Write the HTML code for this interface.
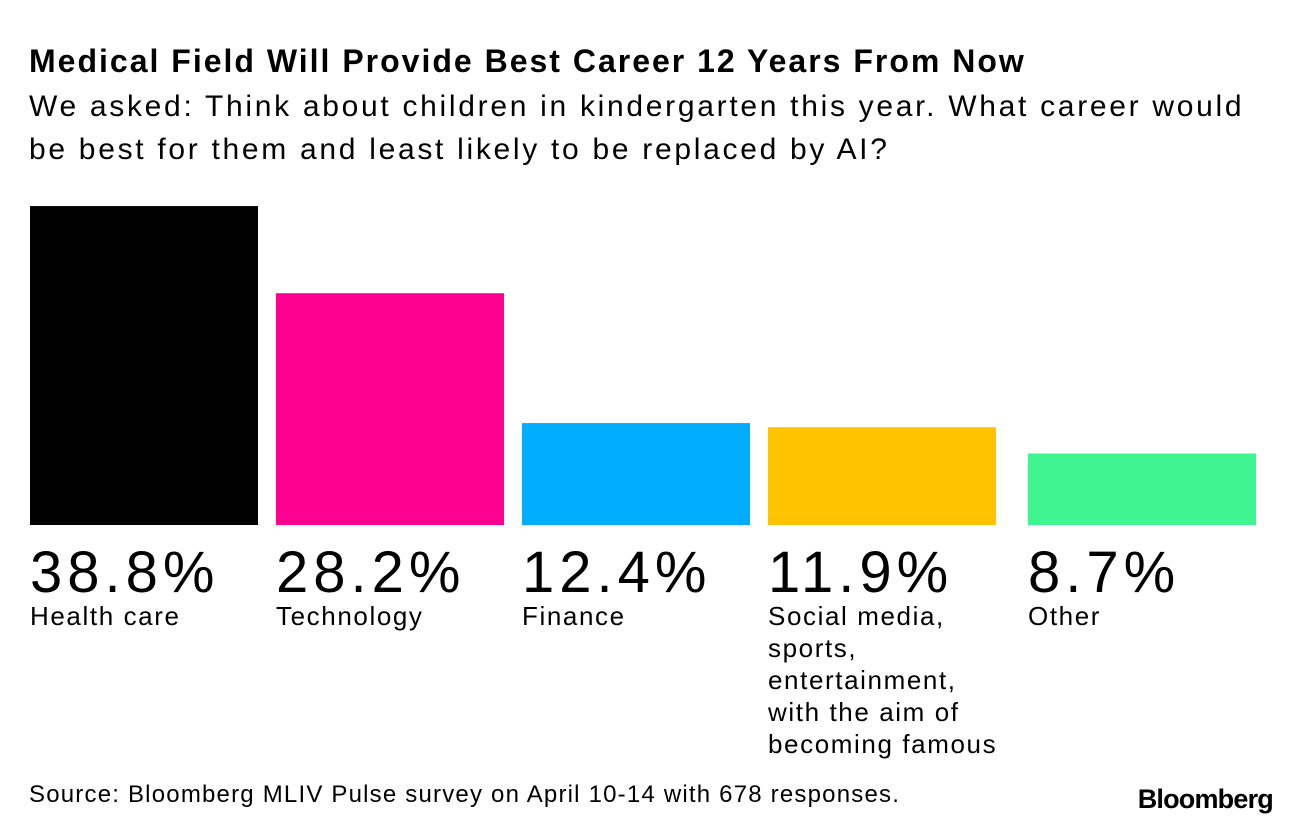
<!DOCTYPE html>
<html><head><meta charset="utf-8">
<style>
body{margin:0;background:#fff;width:1296px;height:834px;overflow:hidden;position:relative;font-family:"Liberation Sans",sans-serif;color:#000}
.t{position:absolute;white-space:nowrap}
</style></head>
<body>
<div class="t" style="left:29px;top:43px;font-size:32px;font-weight:bold;letter-spacing:2px">Medical Field Will Provide Best Career 12 Years From Now</div>
<div class="t" style="left:29px;top:85px;font-size:30px;line-height:43px;letter-spacing:2.7px">We asked: Think about children in kindergarten this year. What career would<br>be best for them and least likely to be replaced by AI?</div>
<svg id="chart" width="1296" height="834" style="position:absolute;left:0;top:0"></svg>
<div class="t" style="left:29px;top:781px;font-size:24px;letter-spacing:1.2px">Source: Bloomberg MLIV Pulse survey on April 10-14 with 678 responses.</div>
<div class="t" style="right:23px;top:784px;font-size:27px;font-weight:bold;letter-spacing:-0.8px">Bloomberg</div>
<script>
const categories=["Health care","Technology","Finance","Social media,\nsports,\nentertainment,\nwith the aim of\nbecoming famous","Other"];
const values=[38.8,28.2,12.4,11.9,8.7];
const colors=["#000000","#ff0090","#00adff","#ffc300","#3ff58f"];
const svg=document.getElementById('chart');
const NS="http://www.w3.org/2000/svg";
const base=525, scale=8.22;
function y(v){return base-v*scale;}
function x(i){return 30+i*246+(i===4?14:0);}
categories.forEach((c,i)=>{
  const r=document.createElementNS(NS,'rect');
  r.setAttribute('x',x(i));r.setAttribute('y',y(values[i]));
  r.setAttribute('width',228);r.setAttribute('height',base-y(values[i]));
  r.setAttribute('fill',colors[i]);
  
  
  svg.appendChild(r);
  const v=document.createElementNS(NS,'text');
  v.setAttribute('x',x(i));v.setAttribute('y',592);
  v.setAttribute('font-size','58');v.setAttribute('letter-spacing','5');
  v.setAttribute('font-family','Liberation Sans, sans-serif');
  v.textContent=values[i].toFixed(1)+'%';
  
  
  svg.appendChild(v);
  c.split('\n').forEach((line,j)=>{
    const t=document.createElementNS(NS,'text');
    t.setAttribute('x',x(i));t.setAttribute('y',625+j*32);
    t.setAttribute('font-size','26');t.setAttribute('letter-spacing','1.6');
    t.setAttribute('font-family','Liberation Sans, sans-serif');
    t.textContent=line;
    
    
    svg.appendChild(t);
  });
});
</script>
</body></html>
